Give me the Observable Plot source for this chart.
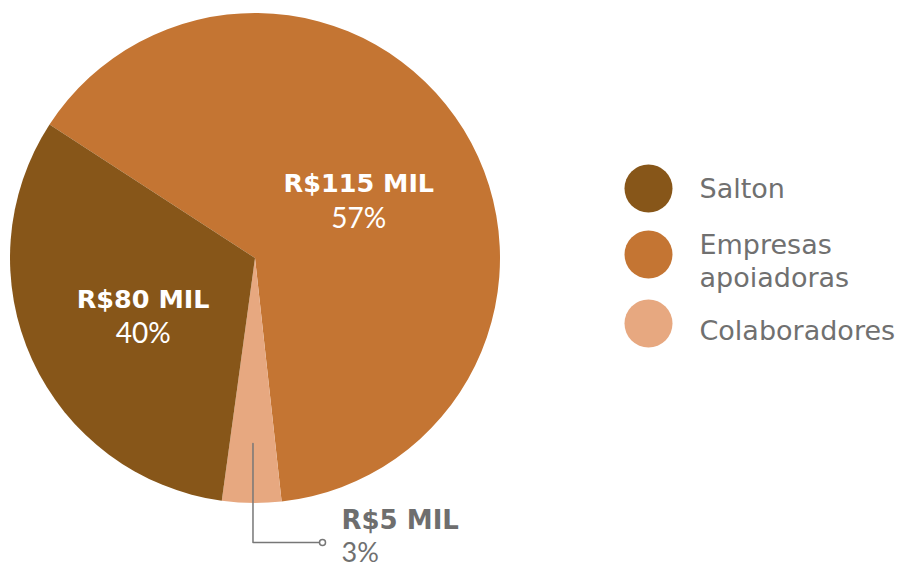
<!DOCTYPE html>
<html><head><meta charset="utf-8">
<script src="https://cdn.jsdelivr.net/npm/d3@7"></script>
<script src="https://cdn.jsdelivr.net/npm/@observablehq/plot@0.6"></script>
<style>body{margin:0;background:#fff}</style>
</head><body><div id="chart"></div>
<script>
// Data (order as drawn clockwise from the Salton/Empresas boundary)
const categories = ["Empresas apoiadoras", "Colaboradores", "Salton"];
const amounts = [115, 5, 80];               // R$ mil
const percentLabels = ["57%", "3%", "40%"];
const drawnShare = [64.1, 3.9, 32.0];       // slice shares as drawn in the picture
const legendCategories = ["Salton", "Empresas apoiadoras", "Colaboradores"];
const legendLabels = ["Salton", "Empresas\napoiadoras", "Colaboradores"];
const palette = ["#C47533", "#E7A880", "#875619"];

const rows = categories.map((c, i) => ({cat: c, amount: amounts[i], pct: percentLabels[i], share: drawnShare[i], color: palette[i]}));
const colorOf = Object.fromEntries(rows.map(d => [d.cat, d.color]));

const R = 245;
const start = -57 * Math.PI / 180;
const arcs = d3.pie().value(d => d.share).sort(null).startAngle(start).endAngle(start + 2 * Math.PI)(rows);
const arcGen = d3.arc().innerRadius(0).outerRadius(R);
const big = arcs.filter(a => a.data.amount > 10).map(a => {
  const [x, y] = arcGen.centroid(a);
  return {x, y, value: `R$${a.data.amount} MIL`, pct: a.data.pct};
});
const colab = arcs.find(a => a.data.cat === "Colaboradores");
const mid = (colab.startAngle + colab.endAngle) / 2;
const p0 = [185 * Math.sin(mid), -185 * Math.cos(mid)];
const leader = [p0, [p0[0], 284], [67, 284]];

const pieMark = (index, scales) => {
  const g = d3.create("svg:g").attr("transform", `translate(${scales.x(0)},${scales.y(0)})`);
  const r = scales.x(R) - scales.x(0);
  g.selectAll("path").data(arcs).join("path")
    .attr("d", d3.arc().innerRadius(0).outerRadius(r))
    .attr("fill", d => d.data.color);
  return g.node();
};

const gray = "#707070";
const chart = Plot.plot({
  width: 902, height: 567, margin: 0,
  x: {domain: [-255, 647], range: [0, 902], axis: null},
  y: {domain: [-258, 309], range: [0, 567], axis: null},
  style: {fontFamily: "DejaVu Sans", background: "#fff"},
  marks: [
    pieMark,
    Plot.text(big, {x: d => d.x - 1, y: d => d.y - 10, text: "value", fill: "white", fontWeight: "bold", fontSize: 25.5}),
    Plot.text(big, {x: d => d.x - 1, y: d => d.y + 25, text: "pct", fill: "white", fontFamily: "Lato", fontWeight: 400, fontSize: 28}),
    Plot.line(leader, {x: d => d[0], y: d => d[1], stroke: "#777", strokeWidth: 1.5}),
    Plot.dot([leader[2]], {x: d => d[0], y: d => d[1], r: 3, stroke: "#777", fill: "white", strokeWidth: 1.5}),
    Plot.text([`R$${amounts[1]} MIL`], {x: () => 86, y: () => 262, text: d => d, textAnchor: "start", fill: "#6e6e6e", fontWeight: "bold", fontSize: 26}),
    Plot.text([percentLabels[1]], {x: () => 86, y: () => 295, text: d => d, textAnchor: "start", fill: gray, fontFamily: "Lato", fontWeight: 400, fontSize: 27}),
    Plot.dot(legendCategories, {x: () => 393, y: (d, i) => [-70, -4, 65][i], r: 24, fill: d => colorOf[d]}),
    Plot.text(legendLabels, {x: () => 444, y: (d, i) => [-71, 1, 71][i], text: d => d, textAnchor: "start", fill: gray, fontSize: 27, lineHeight: 1.23})
  ]
});
document.getElementById("chart").append(chart);
</script>
</body></html>
